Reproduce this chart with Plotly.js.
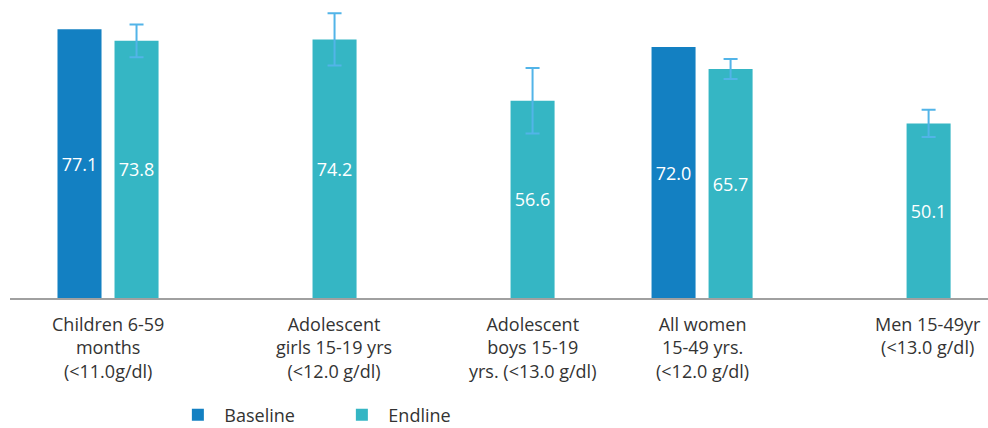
<!DOCTYPE html>
<html>
<head>
<meta charset="utf-8">
<script src="https://cdn.plot.ly/plotly-3.0.1.min.js"></script>
<style>html,body{margin:0;padding:0;background:#fff}#chart{width:988px;height:428px}</style>
</head>
<body>
<div id="chart"></div>
<script>
const categories = ["Children 6-59", "Adolescent girls", "Adolescent boys", "All women", "Men"];
const categoryLabels = [
  "Children 6-59<br>months<br>(<11.0g/dl)",
  "Adolescent<br>girls 15-19 yrs<br>(<12.0 g/dl)",
  "Adolescent<br>boys 15-19<br>yrs. (<13.0 g/dl)",
  "All women<br>15-49 yrs.<br>(<12.0 g/dl)",
  "Men 15-49yr<br>(<13.0 g/dl)"
];
const baseline = [77.1, null, null, 72.0, null];
const endline = [73.8, 74.2, 56.6, 65.7, 50.1];
const endlineError = [4.7, 7.5, 9.4, 2.9, 3.9];

const baseColor = "#1380C2";
const endColor = "#35B6C4";
const errColor = "#52B4E8";
const fontFam = "'Open Sans', sans-serif";

const traces = [
  {
    type: "bar", name: "Baseline", x: categories, y: baseline,
    marker: {color: baseColor},
    text: baseline.map(v => v == null ? "" : v.toFixed(1)),
    textposition: "inside", insidetextanchor: "middle",
    textfont: {color: "#ffffff", size: 18, family: fontFam},
    hoverinfo: "none"
  },
  {
    type: "bar", name: "Endline", x: categories, y: endline,
    marker: {color: endColor},
    text: endline.map(v => v.toFixed(1)),
    textposition: "inside", insidetextanchor: "middle",
    textfont: {color: "#ffffff", size: 18, family: fontFam},
    error_y: {type: "data", array: endlineError, visible: true, color: errColor, thickness: 2, width: 7},
    hoverinfo: "none"
  }
];

const annotations = categories.map((c, i) => ({
  x: c, xref: "x", y: 0, yref: "paper", yanchor: "top", xanchor: "center",
  yshift: -12, xshift: baseline[i] == null ? 28 : 0,
  text: categoryLabels[i], showarrow: false, align: "center",
  font: {size: 18, color: "#333333", family: fontFam}
}));

const layout = {
  width: 988, height: 428,
  margin: {l: 10, r: 0, t: 0, b: 130},
  paper_bgcolor: "#ffffff", plot_bgcolor: "#ffffff",
  barmode: "group", bargap: 0.424, bargroupgap: 0.228,
  xaxis: {
    type: "category", range: [-0.495, 4.444],
    showline: true, linecolor: "#a0a0a0", linewidth: 2,
    showticklabels: false, ticks: "", showgrid: false, zeroline: false
  },
  yaxis: {range: [0, 85.5], visible: false, showgrid: false, zeroline: false},
  showlegend: true,
  legend: {
    orientation: "h", xref: "paper", x: 0.165, xanchor: "left",
    yref: "container", y: 0.03, yanchor: "middle",
    font: {size: 18, color: "#333333", family: fontFam},
    itemwidth: 43,
    entrywidth: 106, entrywidthmode: "pixels"
  },
  annotations: annotations,
  font: {family: fontFam}
};

Plotly.newPlot("chart", traces, layout, {displayModeBar: false, staticPlot: true});
</script>
</body>
</html>
